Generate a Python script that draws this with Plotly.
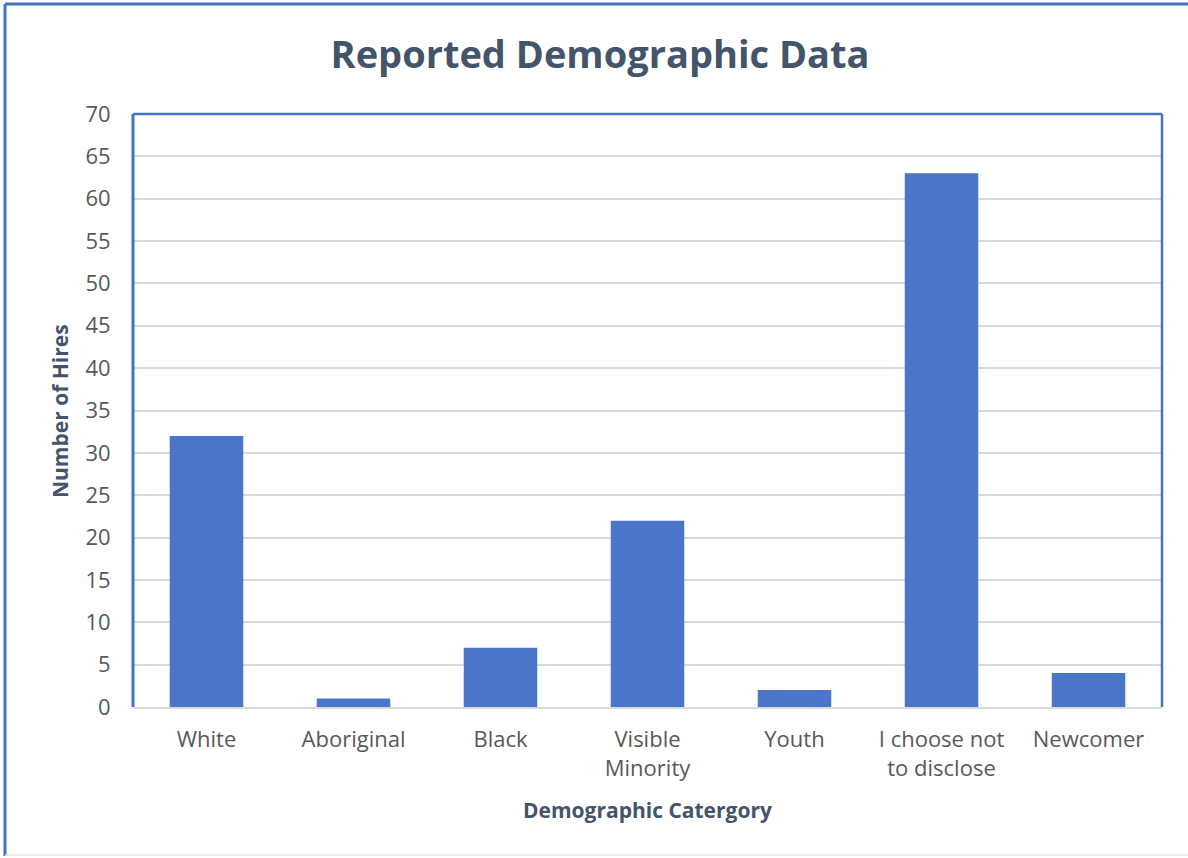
import plotly.graph_objects as go

categories = ["White", "Aboriginal", "Black", "Visible<br>Minority", "Youth",
              "I choose not<br>to disclose", "Newcomer"]
hires = [32, 1, 7, 22, 2, 63, 4]
y_ticks = list(range(0, 75, 5))

title_text = "Reported Demographic Data"
x_title = "Demographic Catergory"
y_title = "Number of Hires"

BLUE = "#4472C4"
FONT = "Open Sans"

fig = go.Figure()
fig.add_trace(go.Bar(
    x=categories, y=hires,
    marker=dict(color="#4A75C9", line=dict(width=0)),
    width=0.5,
))

W, H = 1188, 858
L, R, T, B = 133, 26, 114, 151
pw, ph = W - L - R, H - T - B

def px_x(x):
    return (x - L) / pw

def px_y(y):
    return (H - B - y) / ph

fig.update_layout(
    width=W, height=H,
    margin=dict(l=L, r=R, t=T, b=B, pad=0),
    paper_bgcolor="white", plot_bgcolor="white",
    showlegend=False,
    title=dict(text=f"<b>{title_text}</b>", x=600 / W, xanchor="center",
               y=1 - 55 / H, yanchor="middle",
               font=dict(family=FONT, size=38, color="#44546A")),
    font=dict(family=FONT, color="#595959"),
    bargap=0.5,
)

fig.update_xaxes(
    showline=True, linecolor="#D9D9D9", linewidth=2,
    ticks="outside", ticklen=12, tickcolor="rgba(0,0,0,0)",
    tickfont=dict(family=FONT, size=22, color="#595959"),
)
fig.update_yaxes(
    range=[0, 70], tickvals=y_ticks,
    showgrid=True, gridcolor="#D9D9D9", gridwidth=1.5,
    zeroline=False, showline=False,
    ticks="outside", ticklen=17, tickcolor="rgba(0,0,0,0)",
    tickfont=dict(family=FONT, size=22, color="#595959"),
)

# axis titles
fig.add_annotation(text=f"<b>{x_title}</b>", xref="paper", yref="paper",
                   x=0.5, y=px_y(810), xanchor="center", yanchor="middle",
                   showarrow=False, font=dict(family=FONT, size=21, color="#44546A"))
fig.add_annotation(text=f"<b>{y_title}</b>", xref="paper", yref="paper",
                   x=px_x(60), y=px_y(411), xanchor="center", yanchor="middle",
                   textangle=-90, showarrow=False,
                   font=dict(family=FONT, size=21, color="#44546A"))

# plot-area frame: blue left, top, right
for x0, y0, x1, y1, w in [(0, 0, 0, 1, 3), (0, 1, 1, 1, 2.5), (1, 0, 1, 1, 2.5)]:
    fig.add_shape(type="line", xref="paper", yref="paper", x0=x0, y0=y0, x1=x1, y1=y1,
                  line=dict(color=BLUE, width=w), layer="above")

# outer frame: blue top and left edges
fig.add_shape(type="line", xref="paper", yref="paper",
              x0=px_x(5), y0=px_y(4), x1=px_x(1188), y1=px_y(4),
              line=dict(color=BLUE, width=3))
fig.add_shape(type="line", xref="paper", yref="paper",
              x0=px_x(5), y0=px_y(4), x1=px_x(5), y1=px_y(856),
              line=dict(color=BLUE, width=3))
fig.add_shape(type="line", xref="paper", yref="paper",
              x0=px_x(5), y0=px_y(855), x1=px_x(1188), y1=px_y(855),
              line=dict(color="#E8E8E8", width=1.5))

fig.write_html("out.html", config={"displayModeBar": False},
               post_script="document.body.style.margin='0';document.body.style.overflow='hidden';")
